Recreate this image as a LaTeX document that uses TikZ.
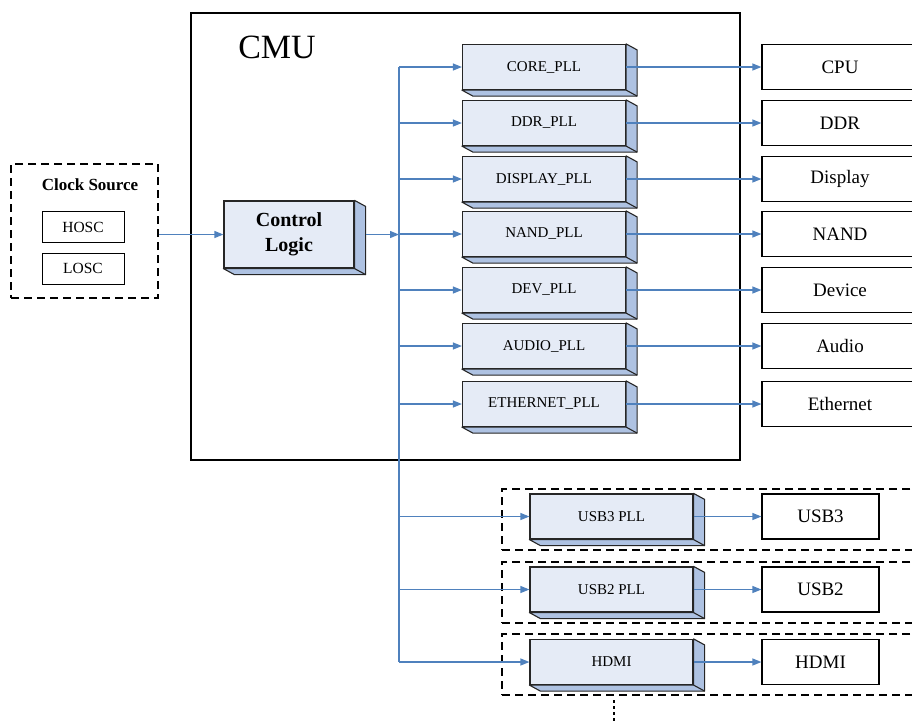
\documentclass[tikz,border=0pt]{standalone}
\usepackage{fontspec}
\setmainfont{Liberation Serif}
\usetikzlibrary{arrows.meta,calc}
\definecolor{face}{HTML}{E5EBF6}
\definecolor{sidecol}{HTML}{AEC2E2}
\definecolor{wire}{HTML}{4F81BD}
\newcommand\sidefaces[1]{%
  \filldraw[fill=sidecol,draw=black!85,line width=1.1pt,line join=round]
    (#1.north east) -- ++(11,6) -- ($(#1.south east)+(11,6)$) -- ($(#1.south west)+(11,6)$) -- (#1.south west) -- (#1.south east) -- cycle;
  \draw[black!85,line width=1.1pt] (#1.south east) -- ++(11,6);
}
\begin{document}
\begin{tikzpicture}[x=1pt,y=-1pt,
  pll/.style={draw=black!85, line width=1.2pt, fill=face, minimum width=163pt, minimum height=45pt, inner sep=0pt, font=\fontsize{15}{18}\selectfont},
  sink/.style={draw, line width=1.2pt, fill=white, minimum width=156pt, minimum height=45pt, inner sep=0pt, font=\fontsize{19}{22}\selectfont},
  sinksmall/.style={sink, minimum width=117pt},
  osc/.style={draw, line width=1pt, minimum width=82pt, minimum height=31pt, inner sep=0pt, font=\fontsize{15.5}{18}\selectfont},
  dashbox/.style={draw, line width=1.2pt, dash pattern=on 8pt off 5pt},
  wirearrow/.style={draw=wire, line width=1.2pt, -{Triangle[length=9pt,width=7pt]}},
  wireline/.style={draw=wire, line width=1.2pt}
]
\useasboundingbox (0,0) rectangle (912,721);
\clip (0,0) rectangle (912,721);

% CMU frame
\node[draw, line width=2.2pt, minimum width=549pt, minimum height=447pt, inner sep=0pt] (cmu) at (465.5,236.5) {};
\node[font=\fontsize{34}{36}\selectfont] (cmulabel) at (277,47) {CMU};

% Clock source
\node[dashbox, minimum width=147pt, minimum height=134pt, inner sep=0pt] (cs) at (84.5,231) {};
\node[font=\bfseries\fontsize{17}{20}\selectfont] (cslabel) at (90,185) {Clock Source};
\node[osc] (hosc) at (83,227) {HOSC};
\node[osc] (losc) at (83,268.5) {LOSC};

% Control logic
\node[draw=black!85, line width=1.2pt, fill=face, minimum width=130pt, minimum height=67pt, inner sep=0pt,
      align=center, font=\bfseries\fontsize{20}{25}\selectfont] (ctl) at (289,234.5) {Control\\Logic};
\sidefaces{ctl}

% bus
\coordinate (bustop) at (399,67);
\coordinate (busbot) at (399,662);
\draw[wireline] (bustop) -- (busbot);

% PLLs inside CMU
\foreach \nm/\txt/\y/\snk/\stxt in {core/CORE\_PLL/67/cpu/CPU, ddr/DDR\_PLL/123/ddrs/DDR, disp/DISPLAY\_PLL/179/disps/Display, nand/NAND\_PLL/234/nands/NAND, dev/DEV\_PLL/290/devs/Device, audio/AUDIO\_PLL/346/audios/Audio, eth/ETHERNET\_PLL/404/eths/Ethernet}{
  \node[pll] (\nm) at (544,\y) {\txt};
  \sidefaces{\nm}
  \node[sink] (\snk) at (840,\y) {\stxt};
  \draw[wirearrow] (bustop |- \nm.west) -- (\nm.west);
  \draw[wirearrow] (\nm.east) -- (\snk.west);
}

% external groups
\node[dashbox, minimum width=440pt, minimum height=61pt, inner sep=0pt] (g1) at (722,519.5) {};
\node[dashbox, minimum width=440pt, minimum height=61pt, inner sep=0pt] (g2) at (722,592.5) {};
\node[dashbox, minimum width=440pt, minimum height=61pt, inner sep=0pt] (g3) at (722,664.5) {};

\foreach \nm/\txt/\y/\snk/\stxt in {usbthree/USB3 PLL/516.5/usbthrees/USB3, usbtwo/USB2 PLL/589.5/usbtwos/USB2, hdmi/HDMI/662/hdmis/HDMI}{
  \node[pll] (\nm) at (611.5,\y) {\txt};
  \sidefaces{\nm}
  \node[sinksmall] (\snk) at (820.5,\y) {\stxt};
  \draw[wirearrow] (bustop |- \nm.west) -- (\nm.west);
  \draw[wirearrow] (\nm.east) -- (\snk.west);
}

% inputs
\draw[wirearrow] (cs.east |- ctl.west) -- (ctl.west);
\draw[wirearrow] ($(ctl.east)+(11,0)$) -- (bustop |- ctl.east);

% continuation
\coordinate (more) at (614,721);
\draw[line width=2.5pt, dash pattern=on 3pt off 3pt] (614,700) -- (more);
\end{tikzpicture}
\end{document}
